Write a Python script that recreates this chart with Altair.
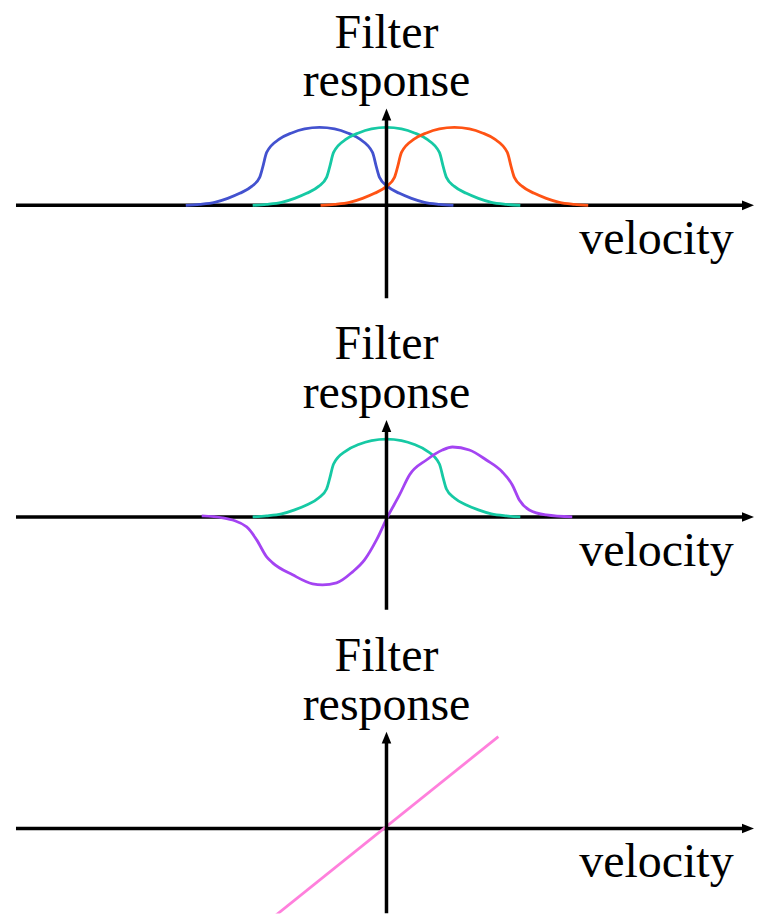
import altair as alt
import pandas as pd

# ---------------- data (velocity units, response units) ----------------
# Panel 1: three velocity-tuned filters (same response profile, shifted)
BLUE_X = [-20.1, -18.7, -17.2, -15.9, -14.7, -13.5, -12.7, -12.4, -12.0, -10.7, -9.5, -8.2, -6.7,
          -5.2, -3.9, -2.7, -1.4, -1.0, -0.7, 0.1, 1.3, 2.5, 3.8, 5.3, 6.7]
TEAL_X = [-13.4, -12.0, -10.5, -9.2, -8.0, -6.8, -6.0, -5.7, -5.3, -4.0, -2.8, -1.5, 0.0,
          1.5, 2.8, 4.0, 5.3, 5.7, 6.0, 6.8, 8.0, 9.2, 10.5, 12.0, 13.4]
ORANGE_X = [-6.6, -5.2, -3.7, -2.4, -1.2, 0.0, 0.8, 1.1, 1.5, 2.8, 4.0, 5.3, 6.8,
            8.3, 9.6, 10.8, 12.1, 12.5, 12.8, 13.6, 14.8, 16.0, 17.3, 18.8, 20.2]
TUNED_Y = [0.0, 0.1, 0.3, 0.7, 1.2, 1.9, 2.8, 3.8, 5.3, 6.65, 7.25, 7.65, 7.8,
           7.65, 7.25, 6.65, 5.3, 3.8, 2.8, 1.9, 1.2, 0.7, 0.3, 0.1, 0.0]

# Panel 2: opponent (difference) filter
PURPLE_X = [-18.5, -16.4, -14.0, -13.0, -12.0, -11.4, -9.4, -7.4, -6.4, -5.0, -3.4, -2.2, -1.0,
            0.1, 1.3, 2.3, 4.0, 5.6, 6.6, 8.3, 10.0, 11.6, 12.6, 13.3, 14.3, 16.0, 18.6]
PURPLE_Y = [0.1, -0.1, -1.0, -2.3, -4.0, -4.6, -5.8, -6.7, -6.8, -6.6, -5.5, -4.3, -2.3,
            0.0, 2.2, 4.2, 5.7, 6.7, 7.0, 6.7, 5.7, 4.5, 3.2, 1.7, 0.7, 0.2, 0.0]

# Panel 3: linear response
PINK_X = [-11.1, 11.2]
PINK_Y = [-8.7, 9.2]

COLORS = {"blue": "#4352cf", "teal": "#16c9a4", "orange": "#ff5314",
          "purple": "#a444f2", "pink": "#ff80dc"}

Y_TITLE = ["Filter", "response"]
Y_TITLE_POS = [15.8, 10.9]
X_TITLE = "velocity"

XDOM = [-37.9, 36.8]
W = 747
HEIGHTS = [312, 312, 282]
FONT = "Liberation Serif"

ARROW_RIGHT = "M1,0L-1,-0.8L-1,0.8Z"
ARROW_UP = "M0,-1L-0.8,1L0.8,1Z"


def curves_df(names, xs, ys):
    rows = []
    for n, xl, yl in zip(names, xs, ys):
        for i, (x, y) in enumerate(zip(xl, yl)):
            rows.append({"curve": n, "x": x, "y": y, "i": i})
    return pd.DataFrame(rows)


def panel(df, h, interp):
    ymin = -(h - 197) / 10
    xs = alt.Scale(domain=XDOM)
    ys = alt.Scale(domain=[ymin, 19.7])
    X = lambda f: alt.X(f, type="quantitative", scale=xs, axis=None)
    Y = lambda f: alt.Y(f, type="quantitative", scale=ys, axis=None)

    haxis = alt.Chart(pd.DataFrame({"x": [-37.1], "x2": [35.9], "y": [0.0]})).mark_rule(
        color="black", strokeWidth=3.5).encode(x=X("x"), x2="x2", y=Y("y"))
    vaxis = alt.Chart(pd.DataFrame({"x": [0.0], "y": [max(-9.3, ymin)], "y2": [8.9]})).mark_rule(
        color="black", strokeWidth=3.5, clip=True).encode(x=X("x"), y=Y("y"), y2="y2")
    arr_r = alt.Chart(pd.DataFrame({"x": [36.2], "y": [0.0]})).mark_point(
        shape=ARROW_RIGHT, size=144, filled=True, color="black", opacity=1, strokeWidth=0
    ).encode(x=X("x"), y=Y("y"))
    arr_u = alt.Chart(pd.DataFrame({"x": [0.0], "y": [9.1]})).mark_point(
        shape=ARROW_UP, size=144, filled=True, color="black", opacity=1, strokeWidth=0
    ).encode(x=X("x"), y=Y("y"))

    names = list(dict.fromkeys(df["curve"]))
    lines = alt.Chart(df).mark_line(strokeWidth=2.8, interpolate=interp, clip=True).encode(
        x=X("x"), y=Y("y"),
        color=alt.Color("curve:N", scale=alt.Scale(domain=names, range=[COLORS[n] for n in names]),
                        legend=None),
        order="i:Q", detail="curve:N")

    ytitle = alt.Chart(pd.DataFrame({"t": Y_TITLE, "x": [0.0, 0.0], "y": Y_TITLE_POS})).mark_text(
        font=FONT, fontSize=48, align="center", baseline="alphabetic", color="black"
    ).encode(x=X("x"), y=Y("y"), text="t:N")
    xtitle = alt.Chart(pd.DataFrame({"t": [X_TITLE], "x": [19.3], "y": [-4.9]})).mark_text(
        font=FONT, fontSize=48, align="left", baseline="alphabetic", color="black"
    ).encode(x=X("x"), y=Y("y"), text="t:N")

    return alt.layer(haxis, lines, vaxis, arr_r, arr_u, ytitle, xtitle).properties(
        width=W, height=h)


p1 = panel(curves_df(["blue", "teal", "orange"], [BLUE_X, TEAL_X, ORANGE_X],
                     [TUNED_Y, TUNED_Y, TUNED_Y]), HEIGHTS[0], "monotone")
p2 = panel(curves_df(["teal", "purple"], [TEAL_X, PURPLE_X], [TUNED_Y, PURPLE_Y]),
           HEIGHTS[1], "monotone")
p3 = panel(curves_df(["pink"], [PINK_X], [PINK_Y]), HEIGHTS[2], "linear")

chart = alt.vconcat(p1, p2, p3, spacing=0).resolve_scale(
    x="independent", y="independent", color="independent"
).properties(padding=0, background="white").configure_view(strokeWidth=0)

chart.save("out.html", embed_options={"renderer": "svg", "actions": False})
